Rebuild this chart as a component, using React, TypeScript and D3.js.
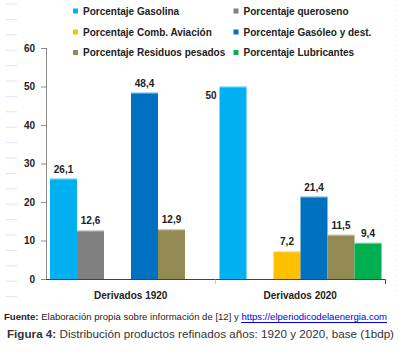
import * as d3 from "d3";

const categories = ["Derivados 1920", "Derivados 2020"];
const seriesNames = [
  "Porcentaje Gasolina",
  "Porcentaje queroseno",
  "Porcentaje Comb. Aviación",
  "Porcentaje Gasóleo y dest.",
  "Porcentaje Residuos pesados",
  "Porcentaje Lubricantes",
];
const seriesColors = ["#00B0F0", "#808080", "#FFC000", "#0070C0", "#948A54", "#00B050"];
// null = no bar in that year
const values1920 = [26.1, 12.6, null, 48.4, 12.9, null];
const values2020 = [50, null, 7.2, 21.4, 11.5, 9.4];
const yTicks = [0, 10, 20, 30, 40, 50, 60];

const W = 398,
  H = 352;
const font = "'Liberation Sans', Arial, sans-serif";

export default function App() {
  const y = d3.scaleLinear().domain([0, 60]).range([279, 48]);
  const x0 = d3.scaleBand().domain(categories).range([46, 385]).padding(0);
  const x1 = d3
    .scaleBand()
    .domain(seriesNames)
    .range([4, x0.bandwidth() - 3.5])
    .padding(0);

  const rows = categories.map((c, i) => ({
    cat: c,
    vals: i === 0 ? values1920 : values2020,
  }));

  const fmt = (v: number) => String(v).replace(".", ",");

  return (
    <svg
      width={W}
      height={H}
      style={{ position: "absolute", left: 0, top: 0, background: "#fff" }}
      fontFamily={font}
    >
      {/* faint page decoration */}
      {d3.range(4, 300, 15.4).map((yy, i) => (
        <line key={"d" + i} x1={6} x2={17} y1={yy} y2={yy} stroke="#dce6f2" strokeWidth={1} />
      ))}
      <line x1={395.5} x2={395.5} y1={0} y2={300} stroke="#e4e8ee" strokeDasharray="1,4" />

      {/* legend */}
      {seriesNames.map((s, i) => {
        const col = i % 2;
        const row = Math.floor(i / 2);
        const lx = col === 0 ? 73 : 233.5;
        const cy = [11, 32, 52.5][row];
        return (
          <g key={s}>
            <rect x={lx} y={cy - 2.5} width={5} height={5} fill={seriesColors[i]} />
            <text x={lx + 10} y={cy + 3.6} fontSize={10} fontWeight="bold" fill="#222">
              {s}
            </text>
          </g>
        );
      })}

      {/* y axis */}
      <line x1={46.5} x2={46.5} y1={y(60)} y2={y(0)} stroke="#8c8c8c" />
      {yTicks.map((t) => (
        <g key={t}>
          <line x1={41} x2={46.5} y1={y(t) + 0.5} y2={y(t) + 0.5} stroke="#8c8c8c" />
          <text x={35} y={y(t) + 3.6} textAnchor="end" fontSize={10} fontWeight="bold" fill="#222">
            {t}
          </text>
        </g>
      ))}

      {/* bars */}
      {rows.map((r) => (
        <g key={r.cat} transform={`translate(${x0(r.cat)},0)`}>
          {r.vals.map((v, i) => {
            if (v == null) return null;
            const bx = x1(seriesNames[i])!;
            const bw = x1.bandwidth();
            const sideLabel = r.cat === "Derivados 2020" && i === 0;
            return (
              <g key={i}>
                <rect x={bx} y={y(v)} width={bw} height={y(0) - y(v)} fill={seriesColors[i]} />
                <line x1={bx} x2={bx + bw} y1={y(v) + 0.5} y2={y(v) + 0.5} stroke="#fff" strokeOpacity={0.5} />
                <text
                  x={sideLabel ? bx - 3 : bx + bw / 2}
                  y={sideLabel ? y(v) + 12 : y(v) - 6}
                  textAnchor={sideLabel ? "end" : "middle"}
                  fontSize={10}
                  fontWeight="bold"
                  fill="#222"
                >
                  {fmt(v)}
                </text>
              </g>
            );
          })}
        </g>
      ))}

      {/* x axis */}
      <line x1={46} x2={385.5} y1={279.5} y2={279.5} stroke="#404040" />
      {[x0(categories[1])!, 385.5].map((xx, i) => (
        <line key={i} x1={xx} x2={xx} y1={279.5} y2={284} stroke={i === 0 ? "#c8c8c8" : "#404040"} />
      ))}
      {categories.map((c) => (
        <text
          key={c}
          x={x0(c)! + x0.bandwidth() / 2}
          y={299}
          textAnchor="middle"
          fontSize={10}
          fontWeight="bold"
          fill="#222"
        >
          {c}
        </text>
      ))}

      {/* source */}
      <text
        x={4}
        y={320}
        fontSize={9}
        fontFamily="'Liberation Sans Narrow', 'Arial Narrow', 'Liberation Sans', sans-serif"
        fill="#222"
        textLength={383}
        lengthAdjust="spacingAndGlyphs"
      >
        <tspan fontWeight="bold">Fuente:</tspan>
        <tspan> Elaboración propia sobre información de [12] y </tspan>
        <tspan fill="#0000EE">https://elperiodicodelaenergia.com</tspan>
      </text>
      <line x1={241} x2={387} y1={322.5} y2={322.5} stroke="#0000EE" />

      {/* caption */}
      <text
        x={7}
        y={337.5}
        fontSize={10}
        fill="#333"
        textLength={387}
        lengthAdjust="spacingAndGlyphs"
      >
        <tspan fontWeight="bold">Figura 4:</tspan>
        <tspan> Distribución productos refinados años: 1920 y 2020, base (1bdp)</tspan>
      </text>
    </svg>
  );
}
